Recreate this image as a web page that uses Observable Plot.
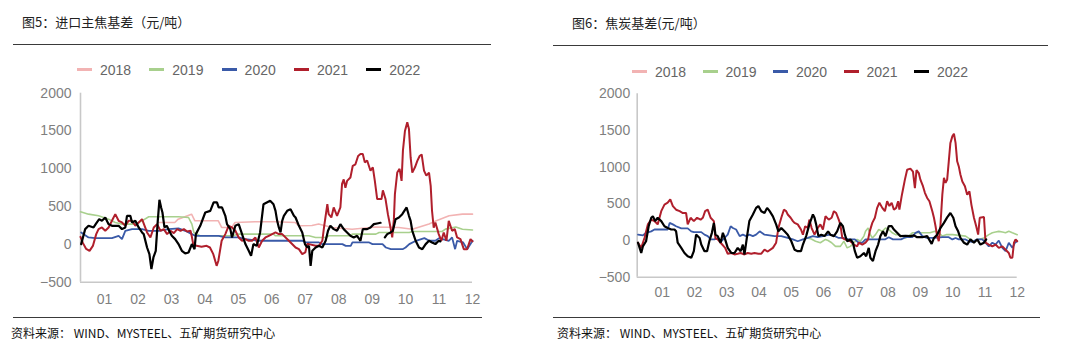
<!DOCTYPE html>
<html><head><meta charset="utf-8">
<script src="https://cdn.jsdelivr.net/npm/d3@7"></script>
<script src="https://cdn.jsdelivr.net/npm/@observablehq/plot@0.6"></script>
<style>
body{margin:0;background:#fff;}
#root{position:relative;width:1080px;height:356px;overflow:hidden;font-family:"Noto Sans CJK SC",sans-serif;background:#fff;}
.title{position:absolute;font-size:13px;color:#222;line-height:16px;white-space:nowrap;}
.rule{position:absolute;height:0;border-top:1px solid #3a3a3a;}
.item{position:absolute;display:flex;align-items:center;font-family:"Liberation Sans",Arial,sans-serif;font-size:14px;color:#666;line-height:16px;white-space:nowrap;}
.sw{width:15px;height:3px;margin-right:8px;}
.src{position:absolute;font-size:12px;color:#111;line-height:14px;white-space:nowrap;}
.chart{position:absolute;}
</style></head>
<body><div id="root"></div>
<script>
// ---------- shared ----------
const years = ["2018","2019","2020","2021","2022"];
const yearColors = ["#f2b3b3","#a8d08d","#3a5aa8","#b01f2c","#000000"];
const lineWidths = [1.6,1.6,1.8,2,2.2];
const monthTicks = [1,2,3,4,5,6,7,8,9,10,11,12];
const monthLabels = ["01","02","03","04","05","06","07","08","09","10","11","12"];
const yTicks = [-500,0,500,1000,1500,2000];
const sourceText = "资料来源： WIND、MYSTEEL、五矿期货研究中心";

// ---------- 图5：进口主焦基差 (x = month position, y = 元/吨) ----------
const coal2018 = [[2.6,290],[3.1,290],[3.2,334],[3.6,400],[3.7,312],[4.4,312],[4.5,224],[4.8,224],[4.9,290],[5.5,300],[6.1,300],[6.7,290],[6.8,246],[7.2,250],[7.4,270],[7.8,224],[8.4,200],[9.1,230],[9.8,224],[10.2,200],[10.7,270],[10.9,310],[11.3,380],[11.7,400],[12,400]];
const coal2019 = [[0.28,431],[0.52,400],[0.82,378],[1.12,334],[1.32,290],[1.52,268],[1.92,268],[2.12,312],[2.32,365],[2.62,365],[3.21,365],[3.51,356],[3.61,268],[3.67,158],[3.85,114],[4.41,114],[4.81,114],[5.01,136],[5.51,136],[6.05,136],[6.11,114],[7.11,114],[7.31,92],[7.61,92],[7.71,114],[8.31,114],[8.41,136],[9.11,136],[9.21,158],[10.11,158],[10.21,171],[11.09,171],[11.19,202],[11.5,230],[11.7,200],[12,190]];
const coal2020 = [[0.30,158],[0.52,92],[0.72,83],[1.02,83],[1.22,83],[1.42,114],[1.52,70],[1.62,180],[1.82,202],[2.12,202],[2.32,180],[2.62,180],[2.92,202],[3.21,211],[3.41,180],[3.61,136],[3.71,114],[4.0,114],[4.41,114],[4.61,92],[5.01,92],[5.21,70],[5.61,48],[6.05,48],[6.91,48],[7.01,26],[7.41,26],[7.51,4],[8.11,4],[8.21,-19],[8.36,-19],[8.41,26],[8.91,26],[9.01,4],[9.31,4],[9.41,-41],[9.56,-63],[9.91,-63],[10.0,-41],[10.11,4],[10.31,48],[10.56,83],[10.71,48],[10.89,48],[11.0,83],[11.29,48],[11.39,92],[11.48,-63],[11.54,48],[11.72,26],[11.84,-63],[11.94,4],[12.0,48]];
const coal2021 = [[0.28,100],[0.35,20],[0.45,-60],[0.55,-85],[0.65,-20],[0.75,136],[0.82,202],[0.92,224],[1.02,180],[1.12,224],[1.22,312],[1.32,400],[1.42,312],[1.52,290],[1.62,246],[1.72,312],[1.82,312],[1.92,246],[2.02,290],[2.12,334],[2.27,158],[2.37,92],[2.47,224],[2.57,268],[2.67,180],[2.77,202],[2.87,136],[2.97,180],[3.07,150],[3.17,202],[3.27,180],[3.37,202],[3.47,170],[3.57,180],[3.61,100],[3.65,4],[3.75,-19],[3.90,-30],[4.05,-19],[4.15,-41],[4.25,-129],[4.35,-283],[4.40,-220],[4.50,48],[4.61,136],[4.71,246],[4.81,224],[4.91,180],[5.01,92],[5.11,48],[5.21,70],[5.31,48],[5.41,48],[5.51,92],[5.61,-41],[5.71,48],[5.81,92],[5.91,114],[6.01,136],[6.11,158],[6.21,136],[6.31,136],[6.51,48],[6.71,-41],[6.81,-63],[6.91,-129],[7.00,-107],[7.06,4],[7.11,4],[7.31,-19],[7.41,-19],[7.51,48],[7.56,224],[7.66,531],[7.70,400],[7.78,356],[7.85,489],[7.95,378],[8.05,489],[8.10,800],[8.15,860],[8.20,750],[8.25,840],[8.35,885],[8.42,1040],[8.50,1060],[8.58,1170],[8.65,1195],[8.72,1195],[8.78,1085],[8.85,1110],[8.95,975],[9.02,1020],[9.08,840],[9.15,600],[9.28,600],[9.32,715],[9.40,600],[9.47,400],[9.55,220],[9.60,92],[9.65,334],[9.68,665],[9.75,950],[9.82,1000],[9.88,840],[9.92,1240],[9.98,1500],[10.05,1615],[10.10,1525],[10.15,1150],[10.20,950],[10.28,1020],[10.35,1105],[10.42,1170],[10.48,1190],[10.55,975],[10.62,910],[10.70,950],[10.75,775],[10.79,445],[10.84,220],[10.89,290],[10.99,136],[11.07,48],[11.14,158],[11.22,48],[11.29,312],[11.39,180],[11.47,202],[11.54,92],[11.64,70],[11.74,-63],[11.84,-63],[11.94,70],[12.0,40]];
const coal2022 = [[0.30,4],[0.42,202],[0.52,246],[0.67,224],[0.77,290],[0.84,334],[0.92,312],[1.02,356],[1.12,268],[1.22,246],[1.42,246],[1.52,202],[1.62,224],[1.67,378],[1.77,378],[1.82,290],[1.92,312],[2.02,224],[2.12,158],[2.17,136],[2.27,-41],[2.34,-129],[2.40,-327],[2.46,-173],[2.53,-85],[2.59,312],[2.64,590],[2.69,489],[2.73,422],[2.79,224],[2.86,246],[2.93,180],[3.01,114],[3.11,70],[3.21,4],[3.31,-85],[3.41,-120],[3.51,-107],[3.61,4],[3.69,-63],[3.73,136],[3.86,246],[4.01,422],[4.16,444],[4.26,555],[4.36,555],[4.41,489],[4.51,489],[4.61,378],[4.66,268],[4.76,202],[4.81,92],[4.91,246],[5.01,268],[5.11,136],[5.21,4],[5.31,-85],[5.38,-151],[5.45,4],[5.55,-19],[5.65,158],[5.75,531],[5.85,555],[5.95,577],[6.05,531],[6.11,444],[6.16,312],[6.21,224],[6.26,158],[6.31,312],[6.36,378],[6.46,444],[6.56,465],[6.66,378],[6.71,356],[6.81,246],[6.91,158],[6.99,4],[7.06,-41],[7.11,-19],[7.16,-283],[7.21,-85],[7.31,-41],[7.41,-19],[7.51,-41],[7.61,48],[7.68,180],[7.75,246],[7.85,202],[7.95,180],[8.05,268],[8.15,202],[8.25,158],[8.35,114],[8.45,92],[8.55,114],[8.65,48],[8.72,202],[8.85,202],[8.95,224],[9.05,268],[9.15,277],[9.25,286],[9.30,NaN],[9.38,92],[9.45,136],[9.55,158],[9.62,180],[9.70,334],[9.80,356],[9.90,400],[10.03,489],[10.10,378],[10.15,312],[10.20,180],[10.30,48],[10.40,-41],[10.50,-63],[10.60,4],[10.70,48],[10.79,26],[10.89,4],[10.99,48],[11.04,40]];

// ---------- 图6：焦炭基差 ----------
const coke2018 = [];
const coke2019 = [[5.50,35],[5.62,20],[5.75,-10],[5.90,-30],[6.06,15],[6.14,0],[6.25,-30],[6.37,-80],[6.52,-80],[6.63,-10],[6.73,-100],[6.83,-80],[6.94,-30],[7.04,15],[7.14,-10],[7.25,60],[7.30,125],[7.38,170],[7.45,80],[7.51,35],[7.61,80],[7.71,150],[7.82,125],[7.92,170],[8.02,150],[8.13,105],[8.23,80],[8.33,80],[8.44,60],[8.54,35],[8.64,60],[8.75,105],[8.90,105],[9.10,105],[9.30,105],[9.45,125],[9.57,105],[9.68,60],[9.80,80],[10.0,80],[10.2,70],[10.4,60],[10.55,15],[10.66,-10],[10.80,15],[10.97,35],[11.12,80],[11.23,105],[11.33,115],[11.43,125],[11.54,115],[11.64,105],[11.74,125],[11.85,105],[12.0,80]];
const coke2020 = [[0.25,80],[0.40,70],[0.50,105],[0.66,125],[0.76,150],[0.97,150],[1.17,150],[1.23,240],[1.33,220],[1.43,195],[1.59,165],[1.79,165],[1.90,125],[1.98,115],[2.21,115],[2.31,80],[2.41,60],[2.50,15],[2.62,15],[2.72,35],[2.83,-10],[2.93,35],[3.03,80],[3.12,195],[3.19,170],[3.29,150],[3.40,60],[3.50,80],[3.60,60],[3.70,80],[3.81,60],[3.91,80],[4.02,125],[4.17,80],[4.33,70],[4.48,60],[4.69,60],[4.89,35],[5.05,15],[5.20,-10],[5.36,15],[5.51,35],[5.67,60],[5.82,45],[5.98,60],[6.18,80],[6.30,70],[6.47,35],[6.60,35],[6.78,15],[6.97,15],[7.09,-30],[7.20,-30],[7.30,15],[7.50,15],[7.90,15],[8.02,45],[8.15,15],[8.40,15],[8.54,45],[8.75,45],[8.85,105],[8.95,125],[9.06,60],[9.20,35],[9.45,35],[9.68,45],[9.88,45],[9.99,15],[10.09,35],[10.19,15],[10.40,15],[10.50,-10],[10.60,-20],[10.76,15],[10.92,15],[11.02,-30],[11.12,-80],[11.23,-30],[11.33,-55],[11.43,0],[11.54,-100],[11.64,-145],[11.74,-30],[11.85,-100],[11.93,-30],[12.0,-10]];
const coke2021 = [[0.25,-30],[0.35,-100],[0.45,35],[0.555,220],[0.66,285],[0.76,265],[0.86,220],[0.97,400],[1.07,490],[1.17,515],[1.25,560],[1.33,470],[1.43,420],[1.54,400],[1.64,375],[1.74,375],[1.79,220],[1.88,310],[1.98,265],[2.08,310],[2.19,285],[2.26,310],[2.33,400],[2.41,420],[2.50,310],[2.60,265],[2.65,30],[2.72,15],[2.81,-30],[2.95,-100],[3.03,-180],[3.14,-170],[3.24,-190],[3.34,-180],[3.43,-170],[3.55,-190],[3.65,-170],[3.76,-180],[3.86,-170],[3.98,-180],[4.07,-180],[4.17,-125],[4.27,-150],[4.43,-100],[4.53,-30],[4.60,170],[4.69,310],[4.77,420],[4.84,400],[4.89,355],[4.98,310],[5.05,265],[5.10,240],[5.20,220],[5.30,150],[5.36,80],[5.43,195],[5.51,170],[5.56,285],[5.63,170],[5.72,80],[5.82,170],[5.90,220],[5.98,150],[6.06,330],[6.16,285],[6.25,310],[6.32,400],[6.39,375],[6.47,285],[6.52,220],[6.58,35],[6.66,15],[6.83,-10],[6.94,-55],[7.04,-80],[7.09,-30],[7.20,-55],[7.30,-30],[7.38,15],[7.43,125],[7.51,240],[7.59,310],[7.66,445],[7.73,515],[7.82,445],[7.90,400],[7.97,535],[8.04,470],[8.11,515],[8.18,420],[8.25,445],[8.31,535],[8.35,420],[8.42,605],[8.46,695],[8.52,830],[8.59,965],[8.69,980],[8.77,940],[8.83,715],[8.88,960],[8.95,920],[9.00,830],[9.08,740],[9.14,650],[9.21,580],[9.28,535],[9.37,400],[9.42,310],[9.47,195],[9.52,60],[9.57,-10],[9.62,195],[9.68,625],[9.73,855],[9.78,785],[9.83,830],[9.88,1080],[9.93,1330],[9.99,1420],[10.04,1455],[10.09,1330],[10.14,1080],[10.19,1010],[10.24,900],[10.30,805],[10.38,740],[10.45,625],[10.52,670],[10.58,490],[10.66,310],[10.73,195],[10.79,80],[10.84,310],[10.97,320],[11.02,-30],[11.12,-55],[11.23,-80],[11.33,-55],[11.43,-100],[11.54,-80],[11.64,-125],[11.74,-170],[11.79,-235],[11.85,-235],[11.90,-30],[11.95,15],[12.00,-10]];
const coke2022 = [[0.25,-30],[0.30,-100],[0.35,-170],[0.40,-80],[0.50,-10],[0.58,195],[0.66,310],[0.71,330],[0.78,265],[0.86,310],[0.97,265],[1.07,195],[1.17,170],[1.28,150],[1.38,150],[1.43,125],[1.48,-30],[1.59,-100],[1.69,-170],[1.79,-215],[1.90,-235],[1.98,-145],[2.05,80],[2.16,35],[2.21,-55],[2.31,-145],[2.39,-145],[2.46,-10],[2.54,105],[2.60,240],[2.65,80],[2.72,60],[2.81,-30],[2.88,105],[2.95,15],[3.03,-100],[3.14,-170],[3.24,-170],[3.34,-100],[3.43,-145],[3.50,-55],[3.55,-190],[3.63,60],[3.70,265],[3.81,355],[3.91,445],[3.98,470],[4.07,400],[4.17,375],[4.25,445],[4.33,400],[4.43,330],[4.53,220],[4.60,125],[4.69,170],[4.79,125],[4.89,80],[5.00,-10],[5.10,-125],[5.20,-145],[5.30,-145],[5.36,-55],[5.46,60],[5.56,220],[5.67,355],[5.72,310],[5.77,220],[5.84,60],[5.93,80],[6.03,60],[6.14,125],[6.21,80],[6.32,60],[6.42,125],[6.52,240],[6.60,195],[6.66,80],[6.73,-10],[6.83,15],[6.91,-30],[6.97,-145],[7.04,-235],[7.14,-215],[7.25,-170],[7.32,-215],[7.40,-100],[7.45,-235],[7.53,-280],[7.61,-145],[7.69,-55],[7.76,60],[7.84,125],[7.92,60],[8.02,195],[8.11,195],[8.18,150],[8.28,105],[8.38,60],[8.54,65],[8.69,60],[8.80,70],[8.90,45],[9.06,45],[9.21,60],[9.35,-45],[9.42,35],[9.52,80],[9.62,170],[9.73,240],[9.83,315],[9.93,375],[10.02,310],[10.09,195],[10.17,125],[10.24,35],[10.35,-30],[10.45,-55],[10.55,15],[10.66,-30],[10.76,15],[10.86,-55],[10.97,-30],[11.04,15]];

const root = document.getElementById("root");
function add(cls, css, text) {
  const d = document.createElement("div");
  d.className = cls;
  Object.assign(d.style, css);
  if (text != null) d.textContent = text;
  root.appendChild(d);
  return d;
}

function legend(x0, step, y) {
  years.forEach((yr, i) => {
    const it = add("item", {left: (x0 + i * step) + "px", top: (y - 8) + "px"});
    const sw = document.createElement("span");
    sw.className = "sw";
    sw.style.background = yearColors[i];
    it.appendChild(sw);
    const t = document.createElement("span");
    t.textContent = yr;
    it.appendChild(t);
  });
}

const yFormat = (d) => (d < 0 ? "\u2212" + Math.abs(d) : String(d));

function chart(seriesList, o) {
  const marks = [
    Plot.ruleY([-500], {stroke: "#c8c8c8", strokeWidth: 1.6}),
    Plot.ruleX([o.x0], {stroke: "#c8c8c8", strokeWidth: 1.6}),
    Plot.axisY({ticks: yTicks, tickFormat: yFormat, tickSize: 0, tickPadding: o.yPad, fontSize: 14, label: null}),
    Plot.axisX({ticks: monthTicks, tickFormat: (d) => monthLabels[d - 1], tickSize: 0, tickPadding: o.xPad, fontSize: 14, label: null})
  ];
  seriesList.forEach((s, i) => {
    marks.push(Plot.line(s, {x: (d) => d[0], y: (d) => d[1], stroke: yearColors[i], strokeWidth: lineWidths[i], strokeLinejoin: "miter"}));
  });
  const svg = Plot.plot({
    width: o.width, height: o.height,
    marginLeft: o.ml, marginRight: o.mr, marginTop: o.mt, marginBottom: o.mb,
    x: {domain: [o.x0, 12], axis: null},
    y: {domain: [-500, 2000], axis: null},
    style: {fontFamily: '"Liberation Sans", Arial, sans-serif', fontSize: "14px", color: "#7f7f7f", background: "transparent", overflow: "visible"},
    marks
  });
  const wrap = add("chart", {left: o.left + "px", top: o.top + "px"});
  wrap.appendChild(svg);
}

// Left panel
add("title", {left: "22px", top: "14px"}, "图5：进口主焦基差（元/吨）");
add("rule", {left: "13px", top: "44px", width: "478px"});
legend(77, 72.3, 69.5);
chart([coal2018, coal2019, coal2020, coal2021, coal2022],
  {left: 0, top: 80, width: 500, height: 230, ml: 80, mr: 28, mt: 12.7, mb: 28.3, x0: 0.28, yPad: 9, xPad: 12});
add("rule", {left: "13px", top: "317px", width: "469px"});
add("src", {left: "11px", top: "326px"}, sourceText);

// Right panel
add("title", {left: "572px", top: "15px"}, "图6：焦炭基差(元/吨）");
add("rule", {left: "553px", top: "45px", width: "495px"});
legend(632, 70.5, 71.7);
chart([coke2018, coke2019, coke2020, coke2021, coke2022],
  {left: 560, top: 80, width: 480, height: 225, ml: 76.7, mr: 23.3, mt: 13.3, mb: 28.3, x0: 0.225, yPad: 7, xPad: 10});
add("rule", {left: "553px", top: "317px", width: "487px"});
add("src", {left: "557px", top: "326px"}, sourceText);
</script>
</body></html>
